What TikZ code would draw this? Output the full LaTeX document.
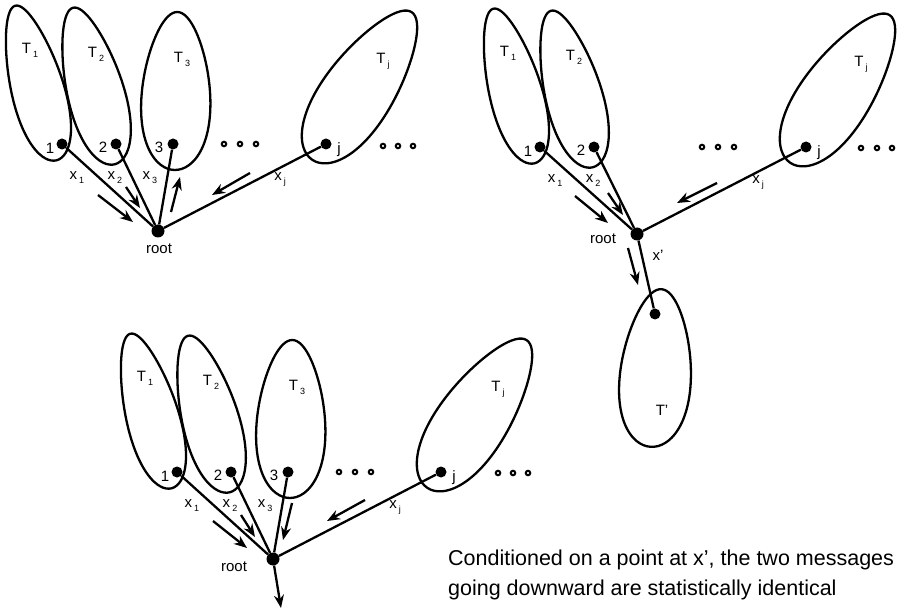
\documentclass[tikz,border=0pt]{standalone}
\usepackage{fontspec}
\setmainfont{Liberation Sans}
\usetikzlibrary{arrows.meta, calc}

\tikzset{
  blob/.style={line width=2.3pt},
  edge/.style={line width=2.3pt},
  msg/.style={line width=2.3pt, -{Stealth[length=13pt, width=10pt]}},
  dot/.style={circle, fill=black, inner sep=0pt, minimum size=11pt},
  rootdot/.style={circle, fill=black, inner sep=0pt, minimum size=13pt},
  ell/.style={circle, draw, line width=2pt, fill=white, inner sep=0pt, minimum size=4.5pt},
  lbl/.style={font=\fontsize{15}{18}\selectfont, inner sep=0pt},
  captext/.style={font=\fontsize{21.5}{30}\selectfont, inner sep=0pt, anchor=base west}
}

% egg shaped subtree: centre x, centre y, rotation, half width, half length
\newcommand{\egg}[5]{%
  \draw[blob, shift={(#1,#2)}, rotate=#3]
    plot[domain=0:355, samples=72, smooth cycle]
    ({#4*sin(\x)*(1-0.2*cos(\x))}, {-#5*cos(\x)});
}
% label with a lowered index
\newcommand{\ix}[2]{#1\kern2pt\raisebox{-4pt}{\fontsize{9}{9}\selectfont #2}}

\begin{document}
\begin{tikzpicture}[x=1pt, y=-1pt]
\useasboundingbox (0,0) rectangle (897,612);

%%% Top left: all messages towards the root
\begin{scope}
% Subtrees
\egg{36}{83}{15}{26}{80}
\egg{94}{86}{15}{28}{81}
\egg{176}{91}{-1}{34}{79}
\egg{362}{86}{-34}{35}{89}

% Vertices
\node[dot] (a1) at (62,144) {};
\node[dot] (a2) at (116,144) {};
\node[dot] (a3) at (173,144) {};
\node[dot] (aj) at (326,144) {};
\node[rootdot] (aroot) at (158,231) {};
\foreach \x/\n in {224/1, 240/2, 256/3} \node[ell] (ae\n) at (\x,144) {};
\foreach \x/\n in {383/1, 398/2, 413/3} \node[ell] (af\n) at (\x,146) {};

% Edges
\draw[edge] (a1) -- (aroot);
\draw[edge] (a2) -- (aroot);
\draw[edge] (a3) -- (aroot);
\draw[edge] (aj) -- (aroot);

% Messages
\foreach \n/\sx/\sy/\ex/\ey in {1/98/195/133/222, 2/126/187/140/208, 3/171/212/180/177, j/250/173/212/195} {
  \coordinate (am\n s) at (\sx,\sy);
  \coordinate (am\n e) at (\ex,\ey);
  \draw[msg] (am\n s) -- (am\n e);
}

% Labels
\node[lbl] (a1t) at (50,148) {1};
\node[lbl] (a2t) at (103,147) {2};
\node[lbl] (a3t) at (159,147) {3};
\node[lbl] (ajt) at (339,150) {j};
\node[lbl] (aroott) at (159,249) {root};
\node[lbl] (aT1) at (30,50) {\ix{T}{1}};
\node[lbl] (aT2) at (96,54) {\ix{T}{2}};
\node[lbl] (aT3) at (182,59) {\ix{T}{3}};
\node[lbl] (aTj) at (383,61) {\ix{T}{j}};
\node[lbl] (ax1) at (77,178) {\ix{x}{1}};
\node[lbl] (ax2) at (115,178) {\ix{x}{2}};
\node[lbl] (ax3) at (150,178) {\ix{x}{3}};
\node[lbl] (axj) at (280,179) {\ix{x}{j}};
\end{scope}

%%% Top right: root conditioned on x'
\begin{scope}[shift={(478,3)}]
% Subtrees
\egg{36}{83}{15}{26}{80}
\egg{94}{86}{15}{28}{81}
\egg{362}{86}{-34}{35}{89}
\egg{178}{365}{-4}{35}{79}

% Vertices
\node[dot] (b1) at (62,144) {};
\node[dot] (b2) at (116,144) {};
\node[dot] (bj) at (328,144) {};
\node[dot] (bp) at (177,311) {};
\node[rootdot] (broot) at (159,231) {};
\foreach \x/\n in {224/1, 240/2, 256/3} \node[ell] (be\n) at (\x,144) {};
\foreach \x/\n in {383/1, 399/2, 414/3} \node[ell] (bf\n) at (\x,145) {};

% Edges
\draw[edge] (b1) -- (broot);
\draw[edge] (b2) -- (broot);
\draw[edge] (bj) -- (broot);
\draw[edge] (broot) -- (bp);

% Messages
\foreach \n/\sx/\sy/\ex/\ey in {1/97/193/130/220, 2/130/190/145/212, j/239/180/199/200, p/150/245/160/282} {
  \coordinate (bm\n s) at (\sx,\sy);
  \coordinate (bm\n e) at (\ex,\ey);
  \draw[msg] (bm\n s) -- (bm\n e);
}

% Labels
\node[lbl] (b1t) at (50,148) {1};
\node[lbl] (b2t) at (103,147) {2};
\node[lbl] (bjt) at (341,150) {j};
\node[lbl] (broott) at (125,236) {root};
\node[lbl] (bT1) at (30,50) {\ix{T}{1}};
\node[lbl] (bT2) at (96,54) {\ix{T}{2}};
\node[lbl] (bTj) at (383,61) {\ix{T}{j}};
\node[lbl] (bTp) at (184,407) {T’};
\node[lbl] (bx1) at (77,178) {\ix{x}{1}};
\node[lbl] (bx2) at (115,178) {\ix{x}{2}};
\node[lbl] (bxj) at (280,179) {\ix{x}{j}};
\node[lbl] (bxp) at (180,252) {x’};
\end{scope}

%%% Bottom: messages going downward
\begin{scope}[shift={(115,328)}]
% Subtrees
\egg{36}{83}{15}{26}{80}
\egg{94}{86}{15}{28}{81}
\egg{176}{91}{-1}{34}{79}
\egg{362}{86}{-34}{35}{89}

% Vertices
\node[dot] (c1) at (62,144) {};
\node[dot] (c2) at (116,144) {};
\node[dot] (c3) at (173,144) {};
\node[dot] (cj) at (326,144) {};
\node[rootdot] (croot) at (158,231) {};
\coordinate (cdown) at (166,280);
\foreach \x/\n in {224/1, 240/2, 256/3} \node[ell] (ce\n) at (\x,144) {};
\foreach \x/\n in {383/1, 398/2, 413/3} \node[ell] (cf\n) at (\x,145) {};

% Edges
\draw[edge] (c1) -- (croot);
\draw[edge] (c2) -- (croot);
\draw[edge] (c3) -- (croot);
\draw[edge] (cj) -- (croot);
\draw[msg] (croot) -- (cdown);

% Messages
\foreach \n/\sx/\sy/\ex/\ey in {1/98/193/132/220, 2/126/187/140/209, 3/177/175/168/212, j/250/172/212/193} {
  \coordinate (cm\n s) at (\sx,\sy);
  \coordinate (cm\n e) at (\ex,\ey);
  \draw[msg] (cm\n s) -- (cm\n e);
}

% Labels
\node[lbl] (c1t) at (50,148) {1};
\node[lbl] (c2t) at (103,147) {2};
\node[lbl] (c3t) at (159,147) {3};
\node[lbl] (cjt) at (339,150) {j};
\node[lbl] (croott) at (119,239) {root};
\node[lbl] (cT1) at (30,50) {\ix{T}{1}};
\node[lbl] (cT2) at (96,54) {\ix{T}{2}};
\node[lbl] (cT3) at (182,59) {\ix{T}{3}};
\node[lbl] (cTj) at (383,61) {\ix{T}{j}};
\node[lbl] (cx1) at (77,178) {\ix{x}{1}};
\node[lbl] (cx2) at (115,178) {\ix{x}{2}};
\node[lbl] (cx3) at (150,178) {\ix{x}{3}};
\node[lbl] (cxj) at (280,179) {\ix{x}{j}};
\end{scope}

% Caption
\node[captext] (cap1) at (448,565) {Conditioned on a point at x’, the two messages};
\node[captext] (cap2) at (448,595) {going downward are statistically identical};

\end{tikzpicture}
\end{document}
